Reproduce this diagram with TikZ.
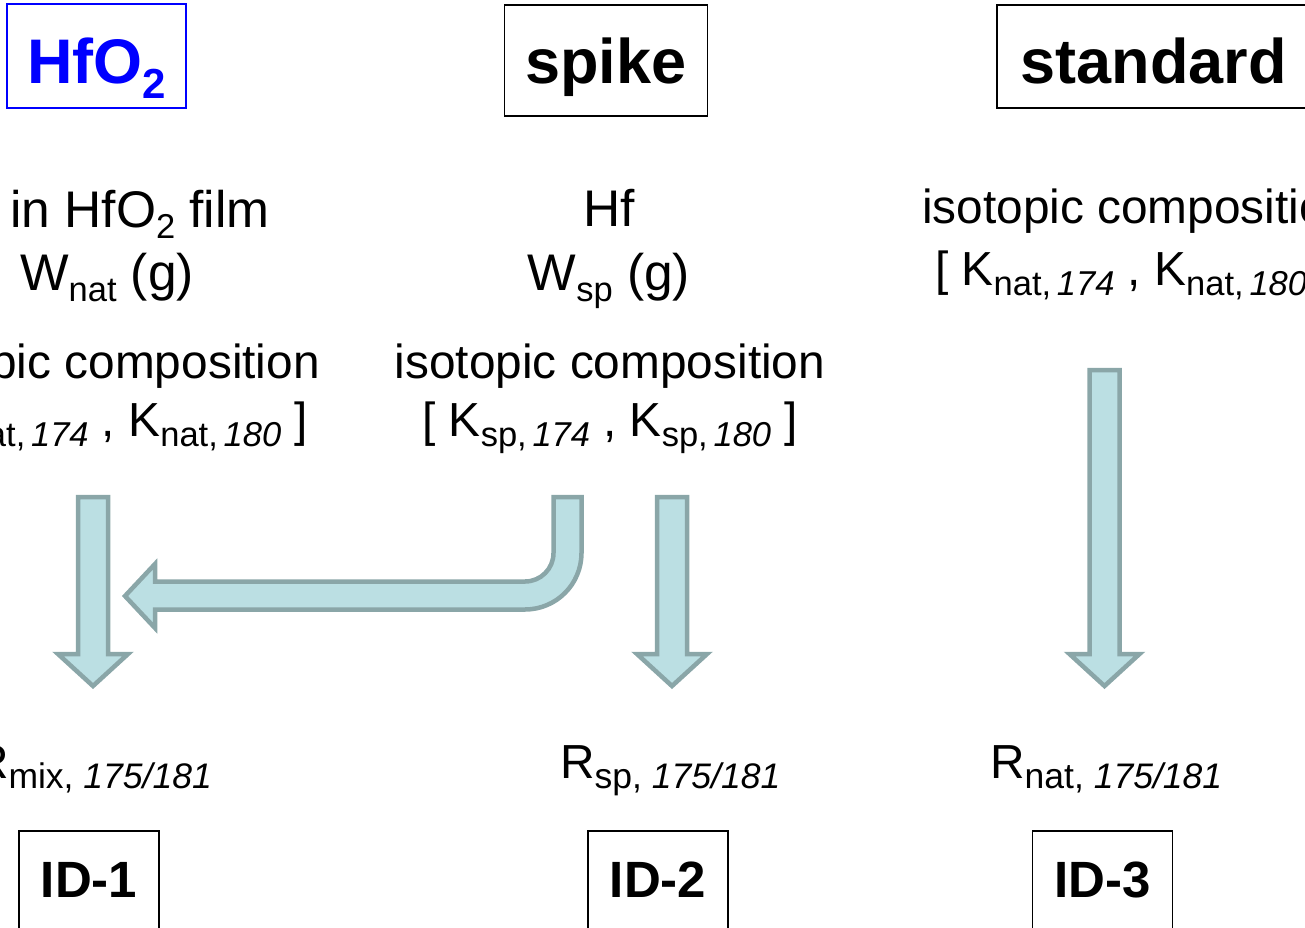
\documentclass[tikz,border=0pt]{standalone}
\usepackage{fontspec}
\setmainfont{Liberation Sans}
\usetikzlibrary{positioning}
\definecolor{arrowfill}{RGB}{187,223,227}
\definecolor{arrowline}{RGB}{138,166,168}
\newcommand{\mainsize}{\fontsize{47.8pt}{57pt}\selectfont}
\newcommand{\lowidx}[1]{\raisebox{-0.22em}{\fontsize{34.5pt}{40pt}\selectfont #1}}
\newcommand{\ratioidx}[1]{\raisebox{-0.22em}{\fontsize{35.5pt}{41pt}\selectfont #1}}
\tikzset{
  txt/.style={inner sep=0pt, font=\mainsize, anchor=base},
  bigtxt/.style={txt, font=\fontsize{51.5pt}{60pt}\selectfont},
  title/.style={draw, line width=1.5pt, inner sep=0pt, anchor=base,
                font=\fontsize{63pt}{75pt}\selectfont\bfseries},
  idbox/.style={draw, line width=1.5pt, inner sep=0pt, anchor=base,
                minimum width=140pt, text height=66pt, text depth=60pt,
                font=\fontsize{51pt}{60pt}\selectfont\bfseries},
  bigarrow/.style={fill=arrowfill, draw=arrowline, line width=4.5pt},
}

\begin{document}
\begin{tikzpicture}[x=1pt, y=-1pt]
  \useasboundingbox (0,0) rectangle (1305,927);
  \clip (0,0) rectangle (1305,927);

  % Headers
  \node[title, draw=blue, text=blue, line width=2pt, minimum width=179pt,
        text height=79pt, text depth=25pt] (oxide) at (96.5,83)
    {HfO\raisebox{-0.24em}{\fontsize{42pt}{48pt}\selectfont 2}};
  \node[title, minimum width=203pt, text height=78pt, text depth=33pt]
    (spike) at (606,83) {spike};
  \node[title, minimum width=313pt, text height=78pt, text depth=25pt]
    (standard) at (1153.5,83) {standard};

  % Sample column
  \node[bigtxt] (film) at (140,227) {in HfO\lowidx{2} film};
  \node[bigtxt] (wnat) at (107,290) {W\lowidx{nat} (g)};
  \node[txt, anchor=base east] (natcomp) at (320,378) {isotopic composition};
  \node[txt, anchor=base east] (natk) at (308,436)
    {[ K\lowidx{nat,\,\textit{174}} , K\lowidx{nat,\,\textit{180}} ]};

  % Spike column
  \node[bigtxt] (hf) at (609,226) {Hf};
  \node[bigtxt] (wsp) at (609,290) {W\lowidx{sp} (g)};
  \node[txt] (spcomp) at (610,378) {isotopic composition};
  \node[txt] (spk) at (610,436)
    {[ K\lowidx{sp,\,\textit{174}} , K\lowidx{sp,\,\textit{180}} ]};

  % Standard column
  \node[txt, anchor=base west] (stdcomp) at (922,223) {isotopic composition};
  \node[txt, anchor=base west] (stdk) at (935,285)
    {[ K\lowidx{nat,\,\textit{174}} , K\lowidx{nat,\,\textit{180}} ]};

  % Measured ratios
  \node[txt, anchor=base east] (rmix) at (212,778) {R\ratioidx{mix, \textit{175/181}}};
  \node[txt, anchor=base west] (rsp) at (560,778) {R\ratioidx{sp, \textit{175/181}}};
  \node[txt, anchor=base west] (rnat) at (990,778) {R\ratioidx{nat, \textit{175/181}}};

  % ID steps
  \node[idbox] (id1) at (89,897) {ID-1};
  \node[idbox] (id2) at (658,897) {ID-2};
  \node[idbox] (id3) at (1102.5,897) {ID-3};

  % Block arrows
  \foreach \cx/\cy in {93/497, 672/497, 1104.5/370}{
    \draw[bigarrow] ({\cx-15},\cy) -- ({\cx+15},\cy) -- ({\cx+15},654)
      -- ({\cx+35},654) -- (\cx,686) -- ({\cx-35},654) -- ({\cx-15},654) -- cycle;
  }
  \draw[bigarrow] (553.5,497) -- (581.5,497) -- (581.5,553)
    arc[start angle=0, end angle=90, radius=56.5] -- (155,609.5)
    -- (155,628) -- (125,596) -- (155,564) -- (155,581.5) -- (525,581.5)
    arc[start angle=90, end angle=0, radius=28.5] -- cycle;
\end{tikzpicture}
\end{document}
